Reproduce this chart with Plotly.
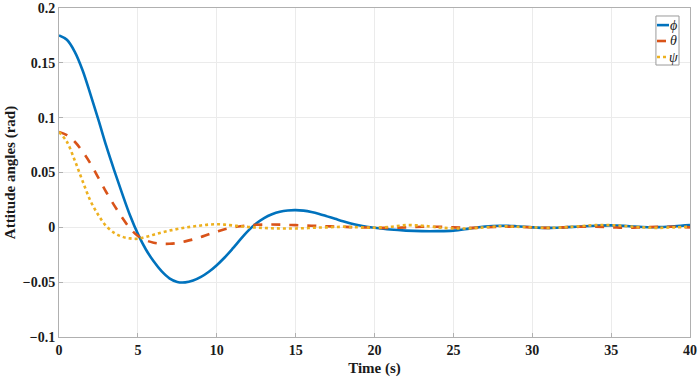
import plotly.graph_objects as go

t = [0, 0.5, 1, 1.5, 2, 2.5, 3, 3.5, 4, 4.5, 5, 5.5, 6, 6.5, 7, 7.5, 8, 8.5, 9, 9.5,
     10, 10.5, 11, 11.5, 12, 12.5, 13, 13.5, 14, 14.5, 15, 15.5, 16, 16.5, 17, 17.5,
     18, 18.5, 19, 19.5, 20, 21, 22, 23, 24, 25, 26, 27, 28, 29, 30, 31, 32, 33, 34,
     35, 36, 37, 38, 39, 40]

phi = [0.175, 0.171, 0.160, 0.143, 0.121, 0.098, 0.074, 0.052, 0.031, 0.011, -0.006,
       -0.020, -0.031, -0.040, -0.0465, -0.0498, -0.0502, -0.0485, -0.0452, -0.0405,
       -0.0345, -0.0275, -0.0195, -0.011, -0.003, 0.0035, 0.0085, 0.012, 0.0143, 0.0154,
       0.0157, 0.0152, 0.014, 0.0122, 0.0100, 0.0078,
       0.0056, 0.0036, 0.0019, 0.0006, -0.0004, -0.002, -0.003, -0.0035, -0.0035,
       -0.003, -0.0012, 0.0008, 0.0015, 0.001, 0.000, -0.0005, 0.0, 0.0008, 0.0015,
       0.0018, 0.0012, 0.0003, 0.0002, 0.001, 0.002]

theta = [0.087, 0.084, 0.078, 0.069, 0.058, 0.045, 0.032, 0.020, 0.009, -0.001, -0.0078,
         -0.0118, -0.014, -0.0149, -0.015, -0.0143, -0.0128, -0.011, -0.0088, -0.0063,
         -0.004, -0.0018, -0.0002, 0.001, 0.0018, 0.0023, 0.0025, 0.0026, 0.0025, 0.0022,
         0.002, 0.0017, 0.0015, 0.0012, 0.001, 0.0008,
         0.0005, 0.0002, 0.0, -0.0002, -0.0004, -0.0005, 0.0, 0.0005, 0.0005,
         0.0, -0.0005, 0.0, 0.0005, 0.0005, 0.0, -0.0005, 0.0, 0.0005, 0.0005,
         0.0, -0.0005, 0.0, 0.0005, 0.0005, 0.0]

psi = [0.087, 0.078, 0.061, 0.042, 0.024, 0.011, 0.001, -0.005, -0.0085, -0.0101, -0.0104,
       -0.0088, -0.0067, -0.0047, -0.003, -0.0015, -0.0002, 0.0008, 0.0017, 0.0025,
       0.0028, 0.0025, 0.0017, 0.001, 0.0003, -0.0002, -0.0006, -0.0009, -0.001, -0.001,
       -0.001, -0.0008, -0.0005, -0.0002, 0.0, 0.0003,
       0.0005, 0.0003, 0.0, -0.0002, -0.0003, 0.0005, 0.002, 0.0015, 0.0,
       -0.001, -0.001, 0.0, 0.001, 0.0005, 0.0, -0.0005, 0.0, 0.001, 0.002,
       0.002, 0.001, 0.0, -0.0005, 0.0, 0.0005]

x_ticks = [0, 5, 10, 15, 20, 25, 30, 35, 40]
y_ticks = [-0.1, -0.05, 0, 0.05, 0.1, 0.15, 0.2]
y_tick_text = ["\u22120.1", "\u22120.05", "0", "0.05", "0.1", "0.15", "0.2"]

series_names = ["\u03d5", "\u03b8", "\u03c8"]
series_colors = ["#0072BD", "#D95319", "#EDB120"]
series_dash = ["solid", "dash", "dot"]

font_serif = "Liberation Serif, Times New Roman, serif"

fig = go.Figure()
for y, name, col, dash in zip([phi, theta, psi], series_names, series_colors, series_dash):
    fig.add_trace(go.Scatter(x=t, y=y, mode="lines", name=name, showlegend=False,
                             line=dict(color=col, width=2.6, dash=dash,
                                       shape="spline", smoothing=1.0)))

axis_common = dict(showline=True, linecolor="#b0b0b0", linewidth=1, mirror=True,
                   showgrid=True, gridcolor="#ebebeb", gridwidth=1,
                   ticks="inside", ticklen=4, tickcolor="#b0b0b0", zeroline=False,
                   automargin=False,
                   tickfont=dict(family=font_serif, size=14, color="#1a1a1a"))

fig.update_layout(
    width=700, height=382,
    margin=dict(l=59, r=10, t=8, b=45, autoexpand=False),
    paper_bgcolor="white", plot_bgcolor="white",
    font=dict(family=font_serif),
    xaxis=dict(range=[0, 40], tickvals=x_ticks,
               ticktext=["<b>%d</b>" % v for v in x_ticks],
               title=dict(text="<b>Time (s)</b>", standoff=5,
                          font=dict(family=font_serif, size=15, color="#1a1a1a")),
               **axis_common),
    yaxis=dict(range=[-0.1, 0.2], tickvals=y_ticks,
               ticktext=["<b>" + s + "</b>" for s in y_tick_text],
               title=dict(text="<b>Attitude angles (rad)</b>", standoff=3,
                          font=dict(family=font_serif, size=15, color="#1a1a1a")),
               **axis_common),
    showlegend=False,
)

# compact MATLAB-style legend box in the top-right corner
fig.add_shape(type="rect", xref="paper", yref="paper", x0=0.946, x1=0.9826,
              y0=0.8267, y1=0.9757, line=dict(color="#9a9a9a", width=1),
              fillcolor="white", layer="above")
row_y = [0.948, 0.8997, 0.851]
for ry, name, col, dash in zip(row_y, series_names, series_colors, series_dash):
    fig.add_shape(type="line", xref="paper", yref="paper", x0=0.9477, x1=0.9667,
                  y0=ry, y1=ry, line=dict(color=col, width=2.6, dash=dash),
                  layer="above")
    fig.add_annotation(xref="paper", yref="paper", x=0.9745, y=ry, text="<i>" + name + "</i>",
                       showarrow=False, xanchor="center", yanchor="middle",
                       font=dict(family=font_serif, size=14, color="#1a1a1a"))

fig.write_html("out.html", config={"displayModeBar": False},
               post_script="document.body.style.margin='0';")
